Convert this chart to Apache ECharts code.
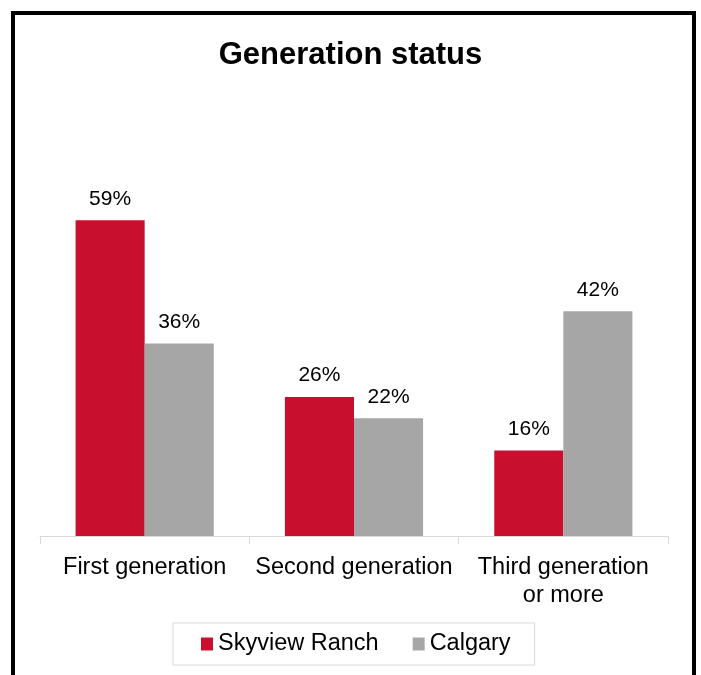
<!DOCTYPE html>
<html>
<head>
<meta charset="utf-8">
<script src="https://cdn.jsdelivr.net/npm/echarts@6/dist/echarts.min.js"></script>
<style>
  html, body { margin: 0; padding: 0; background: #fff; }
  #chart { width: 701px; height: 675px; }
</style>
</head>
<body>
<div id="chart"></div>
<script>
// data
const categories = ['First generation', 'Second generation', 'Third generation\nor more']
const skyview = [59, 26, 16]
const calgary = [36, 22, 42]
const seriesNames = ['Skyview Ranch', 'Calgary']

const font = 'Liberation Sans, Arial, sans-serif'
const chart = echarts.init(document.getElementById('chart'))

const labelStyle = {
  show: true,
  position: 'top',
  distance: 11,
  formatter: '{c}%',
  fontFamily: font,
  fontSize: 21,
  color: '#000'
}

chart.setOption({
  backgroundColor: '#fff',
  animation: false,
  title: {
    text: 'Generation status',
    left: 'center',
    top: 35,
    textStyle: { fontFamily: font, fontSize: 31, fontWeight: 'bold', color: '#000' }
  },
  // black frame round the chart
  graphic: [{
    type: 'rect',
    shape: { x: 13, y: 13, width: 681, height: 700 },
    style: { fill: 'none', stroke: '#000', lineWidth: 4 },
    silent: true
  }],
  legend: {
    data: seriesNames,
    left: 173,
    top: 623,
    itemWidth: 12,
    itemHeight: 13,
    itemGap: 34,
    padding: [9, 24, 9, 28],
    borderColor: '#d9d9d9',
    borderWidth: 1,
    icon: 'rect',
    textStyle: { fontFamily: font, fontSize: 23.5, color: '#000', padding: [0, 0, 0, 0] }
  },
  grid: { left: 40, right: 33, top: 161.5, bottom: 139 },
  xAxis: {
    type: 'category',
    data: categories,
    axisLine: { lineStyle: { color: '#d9d9d9', width: 1 } },
    axisTick: { show: true, length: 8, lineStyle: { color: '#d9d9d9' } },
    axisLabel: {
      interval: 0,
      margin: 18,
      fontFamily: font,
      fontSize: 23.5,
      lineHeight: 28,
      color: '#000'
    }
  },
  yAxis: {
    type: 'value',
    min: 0,
    max: 70,
    show: false,
    splitLine: { show: false }
  },
  series: [
    {
      name: seriesNames[0],
      type: 'bar',
      data: skyview,
      barGap: '0%',
      barCategoryGap: '34%',
      itemStyle: { color: '#c8102e' },
      label: labelStyle
    },
    {
      name: seriesNames[1],
      type: 'bar',
      data: calgary,
      barGap: '0%',
      barCategoryGap: '34%',
      itemStyle: { color: '#a6a6a6' },
      label: labelStyle
    }
  ]
})
</script>
</body>
</html>
